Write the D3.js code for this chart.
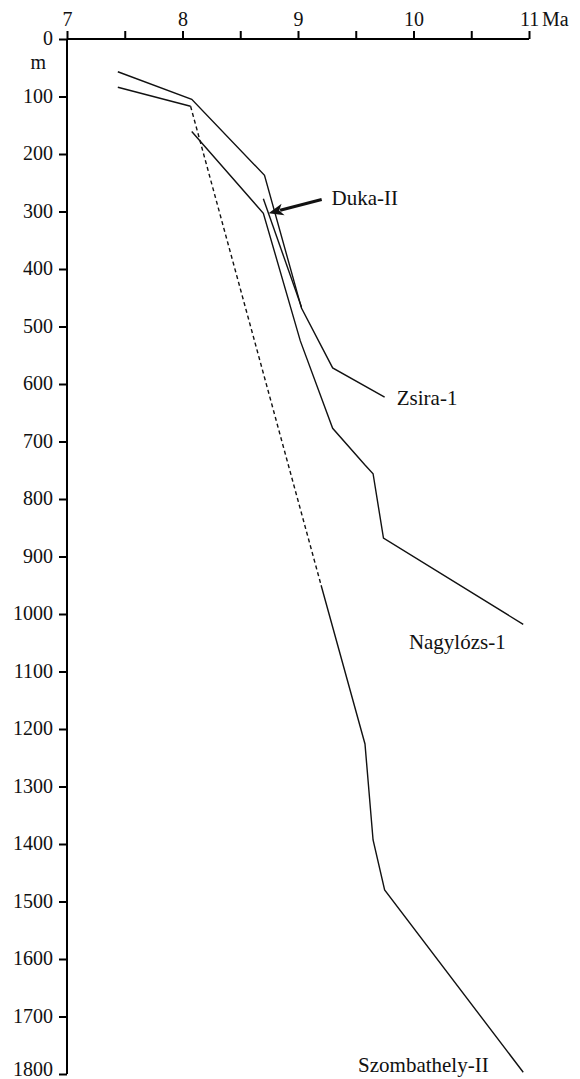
<!DOCTYPE html>
<html><head><meta charset="utf-8">
<script src="https://cdn.jsdelivr.net/npm/d3@7"></script>
<style>
body{margin:0;background:#fff;}
svg{display:block;}
svg text{font-family:"Liberation Serif","Times New Roman",serif !important;}
</style></head><body>
<svg id="c" width="580" height="1079"></svg>
<script>
// ---- data (age in Ma, depth in m) ----
const ageTicks = [7, 7.5, 8, 8.5, 9, 9.5, 10, 10.5, 11];
const depthTicks = [0,100,200,300,400,500,600,700,800,900,1000,1100,1200,1300,1400,1500,1600,1700,1800];

const zsiraAge   = [7.44, 8.08, 8.71, 9.03, 9.30, 9.75];
const zsiraDepth = [57, 105, 237, 468, 572, 623];

const nagyAge   = [8.08, 8.70, 9.02, 9.30, 9.58, 9.65, 9.74, 10.95];
const nagyDepth = [161, 303, 525, 677, 741, 756, 868, 1018];

const szombAge   = [7.44, 8.07, 9.20, 9.58, 9.65, 9.75, 10.95];
const szombDepth = [84, 117, 950, 1226, 1393, 1480, 1797];
const szombDashed = [1, 2]; // segment drawn dashed (from index 1 to 2)

const dukaAge   = [8.70, 9.03];
const dukaDepth = [278, 466];

const arrowAge   = [9.205, 8.745]; // tail, tip
const arrowDepth = [279, 303];

const labels = [
  {text:"Duka-II", age:9.29, depth:289},
  {text:"Zsira-1", age:9.855, depth:636},
  {text:"Nagylózs-1", age:9.96, depth:1061},
  {text:"Szombathely-II", age:9.52, depth:1796}
];

// ---- scales ----
const svg = d3.select("#c");
const x = d3.scaleLinear().domain([7, 11]).range([67, 529]);
const y = d3.scaleLinear().domain([0, 1800]).range([39, 1074]);

const line = d3.line().x(d => x(d[0])).y(d => y(d[1]));
const zip = (a, b) => a.map((v, i) => [v, b[i]]);

// ---- axes ----
const gx = svg.append("g").attr("transform", `translate(0,${y(0)})`)
  .call(d3.axisTop(x).tickValues(ageTicks).tickSize(8).tickSizeOuter(0).tickPadding(5)
    .tickFormat(d => Number.isInteger(d) ? String(d) : ""));
const gy = svg.append("g").attr("transform", `translate(${x(7)},0)`)
  .call(d3.axisLeft(y).tickValues(depthTicks).tickSize(8).tickSizeOuter(0).tickPadding(6)
    .tickFormat(d3.format("d")));
[gx, gy].forEach(g => {
  g.attr("font-family", "Liberation Serif").attr("font-size", 20);
  g.selectAll("path,line").attr("stroke", "#000").attr("stroke-width", 2);
  g.selectAll("text").attr("font-family", "Liberation Serif").style("font-size", "20px").attr("fill", "#111");
});
gy.selectAll("text").attr("dy", d => d === 1800 ? "0.05em" : "0.28em");
gx.select(".domain").attr("d", `M${x(7)},0H${x(11)}`);
gy.select(".domain").attr("d", `M0,${y(0)}V${y(1800)}`);

svg.append("text").attr("x", x(11) + 13).attr("y", 25.5).style("font-size", "20px").attr("fill", "#111").text("Ma");
svg.append("text").attr("x", 46).attr("y", 69).style("font-size", "20px").attr("fill", "#111")
  .attr("text-anchor", "end").text("m");

// ---- series ----
const lw = 1.4;
svg.append("path").attr("d", line(zip(zsiraAge, zsiraDepth)))
  .attr("fill", "none").attr("stroke", "#111").attr("stroke-width", lw);
svg.append("path").attr("d", line(zip(nagyAge, nagyDepth)))
  .attr("fill", "none").attr("stroke", "#111").attr("stroke-width", lw);
svg.append("path").attr("d", line(zip(dukaAge, dukaDepth)))
  .attr("fill", "none").attr("stroke", "#111").attr("stroke-width", lw);

const sz = zip(szombAge, szombDepth);
svg.append("path").attr("d", line(sz.slice(0, szombDashed[0] + 1)))
  .attr("fill", "none").attr("stroke", "#111").attr("stroke-width", lw);
svg.append("path").attr("d", line(sz.slice(szombDashed[0], szombDashed[1] + 1)))
  .attr("fill", "none").attr("stroke", "#111").attr("stroke-width", lw).attr("stroke-dasharray", "4,3");
svg.append("path").attr("d", line(sz.slice(szombDashed[1])))
  .attr("fill", "none").attr("stroke", "#111").attr("stroke-width", lw);

// ---- arrow ----
const tx = x(arrowAge[0]), ty = y(arrowDepth[0]);
const hx = x(arrowAge[1]), hy = y(arrowDepth[1]);
const ang = Math.atan2(hy - ty, hx - tx);
const hl = 15, hw = 6;
const bx = hx - hl * Math.cos(ang), by = hy - hl * Math.sin(ang);
svg.append("line").attr("x1", tx).attr("y1", ty).attr("x2", bx + 3 * Math.cos(ang)).attr("y2", by + 3 * Math.sin(ang))
  .attr("stroke", "#111").attr("stroke-width", 3);
const px = -Math.sin(ang), py = Math.cos(ang);
svg.append("path")
  .attr("d", `M${hx},${hy}L${bx + hw * px},${by + hw * py}L${bx + 4*Math.cos(ang)},${by + 4*Math.sin(ang)}L${bx - hw * px},${by - hw * py}Z`)
  .attr("fill", "#111");

// ---- labels ----
svg.selectAll("text.lab").data(labels).join("text").attr("class", "lab")
  .attr("x", d => x(d.age)).attr("y", d => y(d.depth))
  .style("font-size", "21px").attr("fill", "#111").text(d => d.text);
</script>
</body></html>
